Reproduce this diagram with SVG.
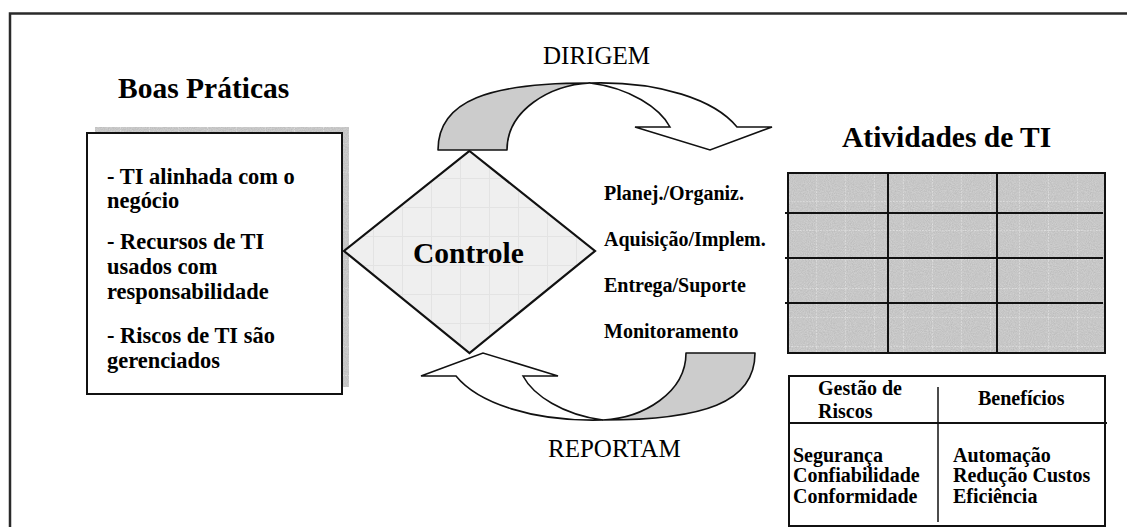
<svg xmlns="http://www.w3.org/2000/svg" width="1127" height="527" viewBox="0 0 1127 527">
  <style>
    .frame { fill: none; stroke: #2a2a2a; stroke-width: 2.5; }
    .box { fill: #ffffff; stroke: #111; stroke-width: 2; }
    .line { stroke: #111; stroke-width: 2; fill: none; }
    .thin { stroke: #111; stroke-width: 1.5; fill: none; }
    .arrow-back { fill: #cccccc; stroke: #111; stroke-width: 1.6; stroke-linejoin: round; }
    .arrow-front { fill: #ffffff; stroke: #111; stroke-width: 1.6; stroke-linejoin: miter; }
    .title { font-family: "Liberation Serif", "Times New Roman", serif; font-weight: bold; font-size: 29.5px; fill: #000; }
    .flow { font-family: "Liberation Serif", "Times New Roman", serif; font-size: 25px; fill: #000; }
    .body { font-family: "Liberation Serif", "Times New Roman", serif; font-weight: bold; font-size: 23.5px; fill: #000; }
    .item { font-family: "Liberation Serif", "Times New Roman", serif; font-weight: bold; font-size: 20px; fill: #000; }
    .cell { font-family: "Liberation Serif", "Times New Roman", serif; font-weight: bold; font-size: 20px; fill: #000; }
  </style>
  <defs>
    <!-- grainy grey fill used by the shadow and the activity grid -->
    <filter id="grain" x="0" y="0" width="100%" height="100%">
      <feTurbulence type="fractalNoise" baseFrequency="0.95" numOctaves="2" seed="3" result="n"/>
      <feColorMatrix in="n" type="matrix" values="0 0 0 0 0  0 0 0 0 0  0 0 0 0 0  0 0 0 0.4 0" result="dots"/>
      <feComposite in="dots" in2="SourceGraphic" operator="in"/>
    </filter>
    <pattern id="gridDark" width="29" height="29" patternUnits="userSpaceOnUse" x="788" y="173">
      <rect width="29" height="29" fill="#d6d6d6"/>
      <path d="M28.5 0V29M0 28.5H29" stroke="#e6e6e6" stroke-width="1" stroke-dasharray="2 1"/>
    </pattern>
    <pattern id="gridLight" width="29" height="29" patternUnits="userSpaceOnUse" x="345" y="150">
      <rect width="29" height="29" fill="#efefef"/>
      <path d="M28.5 0V29M0 28.5H29" stroke="#e3e3e3" stroke-width="1"/>
    </pattern>
    <!-- curved ribbon arrow, drawn once and reused -->
    <g id="ribbon">
      <path class="arrow-back" d="M438 150 C438 100 490 83 590 83 C550 85 507 110 507 150 Z"/>
      <path class="arrow-front" d="M590 83 C660 81 715 100 737 127 L772 127 L710 150 L635 127 L670 127 C660 108 630 88 590 83 Z"/>
    </g>
  </defs>

  <!-- outer frame (open at right and bottom) -->
  <path class="frame" d="M10 527 V13.5 H1127"/>

  <!-- Boas Práticas -->
  <g id="boas-praticas">
    <text class="title" x="118" y="98">Boas Práticas</text>
    <rect x="95" y="127" width="254" height="260" fill="url(#gridDark)"/>
    <rect x="95" y="127" width="254" height="260" fill="#888" filter="url(#grain)" opacity="0.35"/>
    <rect class="box" x="87" y="133" width="255" height="261"/>
    <text class="body" transform="translate(107 184) scale(0.955 1)">- TI alinhada com o</text>
    <text class="body" transform="translate(107 208) scale(0.955 1)">negócio</text>
    <text class="body" transform="translate(107 249) scale(0.955 1)">- Recursos de TI</text>
    <text class="body" transform="translate(107 274) scale(0.955 1)">usados com</text>
    <text class="body" transform="translate(107 299) scale(0.955 1)">responsabilidade</text>
    <text class="body" transform="translate(107 343) scale(0.955 1)">- Riscos de TI são</text>
    <text class="body" transform="translate(107 368) scale(0.955 1)">gerenciados</text>
  </g>

  <!-- Controle -->
  <g id="controle">
    <polygon points="469.5,151 595,251 469.5,353 344,251" fill="url(#gridLight)" stroke="#111" stroke-width="2.2" stroke-linejoin="miter"/>
    <text class="title" x="413" y="263">Controle</text>
  </g>

  <!-- Processos -->
  <g id="processos">
    <text class="item" x="604" y="200">Planej./Organiz.</text>
    <text class="item" x="604" y="246">Aquisição/Implem.</text>
    <text class="item" x="604" y="292">Entrega/Suporte</text>
    <text class="item" x="604" y="338">Monitoramento</text>
  </g>

  <!-- connectors -->
  <g id="connectors">
    <g id="dirigem">
      <use href="#ribbon"/>
      <text class="flow" x="543" y="64">DIRIGEM</text>
    </g>
    <g id="reportam">
      <use href="#ribbon" transform="rotate(180 596.5 251.5)"/>
      <text class="flow" x="548" y="457">REPORTAM</text>
    </g>
  </g>

  <!-- Atividades de TI -->
  <g id="atividades">
    <text class="title" x="842" y="147">Atividades de TI</text>
    <rect x="788" y="173" width="317" height="180" fill="url(#gridDark)"/>
    <rect x="788" y="173" width="317" height="180" fill="#888" filter="url(#grain)" opacity="0.35"/>
    <rect class="line" x="788" y="173" width="317" height="180"/>
    <path class="line" d="M888 173V353M997 173V353M785 213H1103M785 258H1103M785 303H1103"/>
  </g>

  <!-- Gestão de Riscos / Benefícios -->
  <g id="riscos-beneficios">
    <rect class="box" x="789" y="376" width="316" height="150"/>
    <path class="line" d="M789 423H1107"/>
    <path class="thin" d="M938 387V522"/>
    <text class="cell" x="818" y="395">Gestão de</text>
    <text class="cell" x="818" y="418">Riscos</text>
    <text class="cell" x="978" y="405">Benefícios</text>
    <text class="cell" x="793" y="462">Segurança</text>
    <text class="cell" x="793" y="482">Confiabilidade</text>
    <text class="cell" x="793" y="503">Conformidade</text>
    <text class="cell" x="953" y="462">Automação</text>
    <text class="cell" x="953" y="482">Redução Custos</text>
    <text class="cell" x="953" y="503">Eficiência</text>
  </g>
</svg>
